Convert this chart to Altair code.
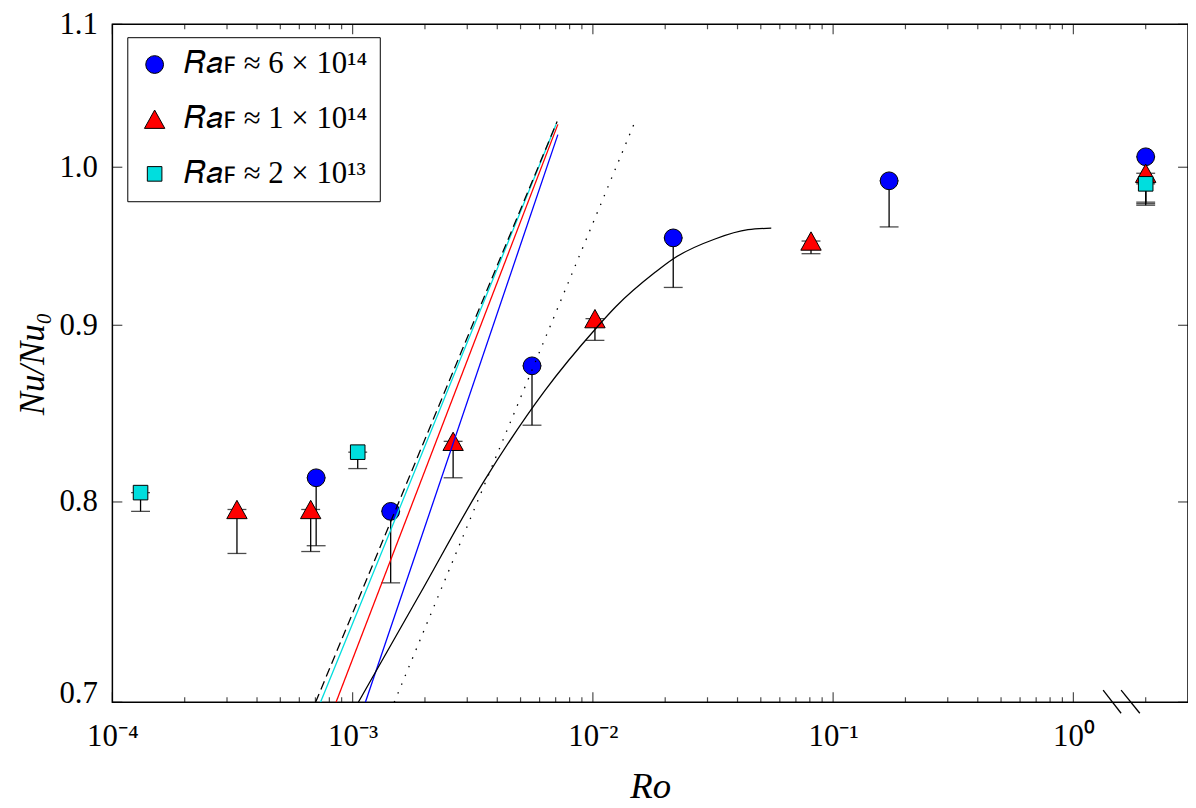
import altair as alt
import pandas as pd

FONT = "Liberation Serif"

# ---------------- data ----------------
series = ["𝑅𝑎ꜰ ≈ 6 × 10¹⁴", "𝑅𝑎ꜰ ≈ 1 × 10¹⁴", "𝑅𝑎ꜰ ≈ 2 × 10¹³"]

ro_6e14 = [7.05e-4, 1.44e-3, 5.58e-3, 0.0216, 0.171, 2.0]
nu_6e14 = [0.813, 0.795, 0.876, 0.954, 0.991, 1.007]
lo_6e14 = [0.777, 0.758, 0.842, 0.923, 0.961, 0.977]

ro_1e14 = [3.30e-4, 6.69e-4, 2.62e-3, 0.0102, 0.0809, 2.0]
nu_1e14 = [0.796, 0.796, 0.833, 0.904, 0.952, 0.996]
lo_1e14 = [0.773, 0.774, 0.813, 0.891, 0.944, 0.975]

ro_2e13 = [1.31e-4, 1.05e-3, 2.0]
nu_2e13 = [0.805, 0.827, 0.989]
lo_2e13 = [0.795, 0.818, 0.976]

# straight fits (log-log) and the model curve
dashed_ro = [7.01e-4, 7.10e-3]
dashed_nu = [0.700, 1.031]
cyan_ro = [7.35e-4, 7.03e-3]
cyan_nu = [0.700, 1.029]
red_ro = [8.53e-4, 7.15e-3]
red_nu = [0.700, 1.029]
blue_ro = [1.13e-3, 7.15e-3]
blue_nu = [0.700, 1.022]
dotted_ro = [1.49e-3, 1.49e-2]
dotted_nu = [0.700, 1.030]
curve_ro = [1.056e-3, 1.887e-3, 3.555e-3, 6.29e-3, 0.01029, 0.01245, 0.01821,
            0.02156, 0.03224, 0.04424, 0.05527]
curve_nu = [0.700, 0.7515, 0.8120, 0.8614, 0.8981, 0.9112, 0.9325,
            0.9407, 0.9533, 0.9592, 0.9602]

# axis break marks on the Ro axis
break_ro1 = [1.33, 1.58]
break_ro2 = [1.58, 1.89]
break_nu1 = [0.7057, 0.7057]
break_nu2 = [0.6949, 0.6949]

# ticks
x_decades = [1e-4, 1e-3, 1e-2, 1e-1]
x_mantissa_minor = [2, 3, 4, 5, 6, 7, 8, 9]
x_major = [1e-4, 1e-3, 1e-2, 1e-1, 1.0]
x_tick_labels = ["10⁻⁴", "10⁻³", "10⁻²", "10⁻¹", "10⁰"]
x_minor = [m * d for d in x_decades for m in x_mantissa_minor] + [2.0]
y_ticks = [0.7, 0.8, 0.9, 1.0, 1.1]

colors = ["#0000ff", "#ff0000", "#00dede"]
shapes = ["circle", "M0,-0.9L1,0.9L-1,0.9Z", "square"]
sizes = [320, 420, 215]

# ---------------- tables ----------------
rows = []
for name, ro, nu, lo in [(series[0], ro_6e14, nu_6e14, lo_6e14),
                         (series[1], ro_1e14, nu_1e14, lo_1e14),
                         (series[2], ro_2e13, nu_2e13, lo_2e13)]:
    for a, b, c in zip(ro, nu, lo):
        rows.append({"series": name, "ro": a, "nu": b, "lo": c})
pts = pd.DataFrame(rows)

xscale = alt.Scale(type="log", domain=[1e-4, 3], nice=False)
yscale = alt.Scale(type="log", domain=[0.7, 1.1], nice=False, zero=False)

x_label_expr = "[" + ",".join("'%s'" % s for s in x_tick_labels) + "][round(log(datum.value)/LN10) + 4]"

x_main_axis = alt.Axis(orient="bottom", values=x_major, labelExpr=x_label_expr,
                       ticks=False, domain=False, grid=False,
                       labelFont=FONT, labelFontSize=31, labelPadding=20, labelColor="black",
                       labelFlush=False, labelOverlap=False,
                       title="Ro", titleFont=FONT, titleFontSize=37, titleFontStyle="italic",
                       titleFontWeight="normal", titleColor="black", titlePadding=17)
y_main_axis = alt.Axis(orient="left", values=y_ticks, format=".1f",
                       ticks=False, domain=False, grid=False,
                       labelFont=FONT, labelFontSize=31, labelPadding=15, labelColor="black",
                       labelFlush=False, labelOverlap=False,
                       labelBaseline={"condition": {"test": "datum.value < 0.75", "value": "alphabetic"},
                                      "value": "middle"},
                       title="Nu/Nu₀", titleFont=FONT, titleFontSize=35, titleFontStyle="italic",
                       titleFontWeight="normal", titleColor="black", titlePadding=9)

W, H = 1082, 682
MAJOR, MINOR = 10, 5


def X(field, axis=None):
    return alt.X(field, scale=xscale, axis=axis)


def Y(field, axis=None):
    return alt.Y(field, scale=yscale, axis=axis)


rules = alt.Chart(pts).mark_rule(color="black", strokeWidth=1.3).encode(
    x=X("ro:Q", x_main_axis),
    y=Y("lo:Q", y_main_axis),
    y2="nu:Q",
)

caps_lo = alt.Chart(pts).mark_tick(orient="horizontal", size=19, thickness=1.3, color="black").encode(
    x=X("ro:Q"), y=Y("lo:Q"),
)
caps_hi = alt.Chart(pts).mark_tick(orient="horizontal", size=19, thickness=1.3, color="black").encode(
    x=X("ro:Q"), y=Y("nu:Q"),
)

# inward axis ticks on all four sides of the frame (positioned by the scales)
tick_layers = []
for vals, length in [(x_major, MAJOR), (x_minor, MINOR)]:
    df = pd.DataFrame({"v": vals})
    for edge in ("bottom", "top"):
        ypos = H - length / 2 if edge == "bottom" else length / 2
        tick_layers.append(
            alt.Chart(df).mark_tick(orient="vertical", size=length, thickness=1.2, color="black").encode(
                x=X("v:Q"), y=alt.value(ypos)
            )
        )
ydf = pd.DataFrame({"v": y_ticks})
for edge in ("left", "right"):
    xpos = MAJOR / 2 if edge == "left" else W - MAJOR / 2
    tick_layers.append(
        alt.Chart(ydf).mark_tick(orient="horizontal", size=MAJOR, thickness=1.2, color="black").encode(
            y=Y("v:Q"), x=alt.value(xpos)
        )
    )

legend = alt.Legend(orient="none", legendX=15, legendY=13, title=None,
                    strokeColor="black", fillColor="white", padding=12, cornerRadius=0,
                    labelFont=FONT, labelFontSize=31, labelColor="black", labelOffset=14,
                    rowPadding=23, symbolStrokeColor="black", symbolStrokeWidth=1,
                    labelLimit=400)

points = alt.Chart(pts).mark_point(filled=True, stroke="black", strokeWidth=1,
                                   opacity=1, fillOpacity=1).encode(
    x=X("ro:Q"),
    y=Y("nu:Q"),
    color=alt.Color("series:N", scale=alt.Scale(domain=series, range=colors), legend=legend),
    shape=alt.Shape("series:N", scale=alt.Scale(domain=series, range=shapes), legend=legend),
    size=alt.Size("series:N", scale=alt.Scale(type="ordinal", domain=series, range=sizes),
                  legend=legend),
)

line_specs = [
    (cyan_ro, cyan_nu, "#00dede", None, "linear"),
    (red_ro, red_nu, "#ff0000", None, "linear"),
    (blue_ro, blue_nu, "#0000ff", None, "linear"),
    (dashed_ro, dashed_nu, "black", [9, 5], "linear"),
    (dotted_ro, dotted_nu, "black", [1.5, 8], "linear"),
    (curve_ro, curve_nu, "black", None, "monotone"),
]
line_layers = []
for ro, nu, col, dash, interp in line_specs:
    kw = dict(color=col, strokeWidth=1.3, clip=True, interpolate=interp)
    if dash is not None:
        kw["strokeDash"] = dash
    line_layers.append(
        alt.Chart(pd.DataFrame({"ro": ro, "nu": nu})).mark_line(**kw).encode(
            x=X("ro:Q"), y=Y("nu:Q"),
        )
    )

breaks = alt.Chart(pd.DataFrame({"x1": break_ro1, "x2": break_ro2, "y1": break_nu1, "y2": break_nu2})
                   ).mark_rule(color="black", strokeWidth=1.3, clip=False).encode(
    x=X("x1:Q"), x2="x2:Q", y=Y("y1:Q"), y2="y2:Q",
)

chart = alt.layer(rules, caps_lo, caps_hi, *tick_layers, points, *line_layers, breaks).resolve_axis(
    x="independent", y="independent"
).properties(
    width=W, height=H,
    autosize=alt.AutoSizeParams(type="none"),
    padding={"left": 105, "top": 14, "right": 0, "bottom": 106},
    background="white",
).configure_view(stroke="black", strokeWidth=1.5).configure_axis(grid=False).configure_legend(
    labelFont=FONT, labelFontSize=31, labelColor="black", labelLimit=400
)

chart.save("out.html", embed_options={"renderer": "svg", "actions": False})
